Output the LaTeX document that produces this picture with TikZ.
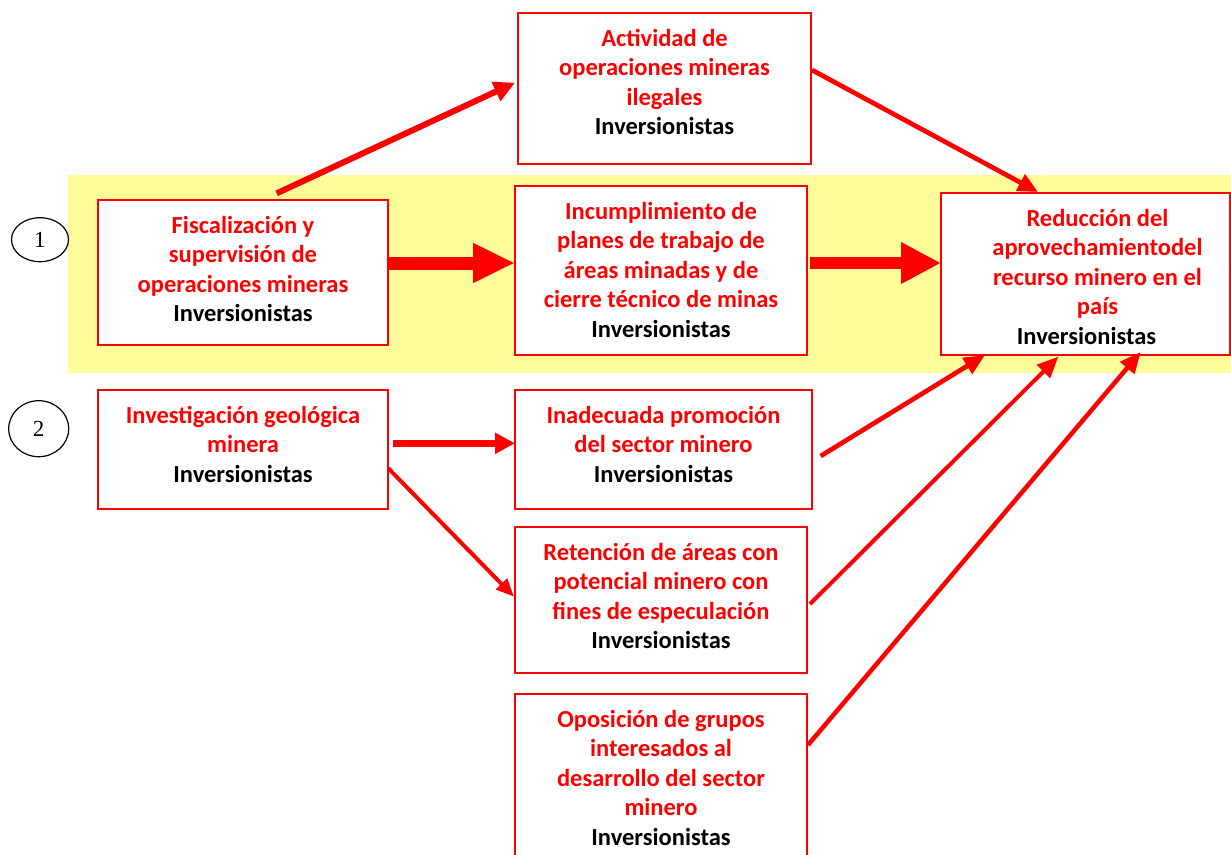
\documentclass[tikz,border=0pt]{standalone}
\usepackage{fontspec}
\setmainfont{Carlito}
\newfontfamily\numfont{Liberation Serif}
\usetikzlibrary{arrows.meta,calc,shapes.geometric}
\definecolor{bandyellow}{RGB}{255,253,153}
\definecolor{myred}{RGB}{255,0,0}
\tikzset{
  box/.style={draw=myred, line width=1.5pt, fill=white, inner sep=0pt, outer sep=0pt},
  txt/.style={anchor=north, inner sep=0pt, align=center, text=myred,
    font=\bfseries\fontsize{24.5pt}{29.5pt}\selectfont},
  numcirc/.style={ellipse, draw=black, line width=1.2pt, inner sep=0pt,
    font=\numfont\fontsize{23pt}{26pt}\selectfont},
  thin link/.style={draw=myred, line width=#1},
  fat link/.style={draw=myred},
}
\newcommand{\inv}{{\color{black}Inversionistas}}
\begin{document}
\begin{tikzpicture}[x=1pt,y=-1pt]
\useasboundingbox (0,0) rectangle (1231,854);
\clip (0,0) rectangle (1231,854);
\fill[bandyellow] (68,175) rectangle (1231,373);

% circles
\node[numcirc, minimum width=57pt, minimum height=44pt] (c1) at (40,239.7) {1};
\node[numcirc, minimum width=60pt, minimum height=56pt] (c2) at (38.7,428.7) {2};

% boxes
\node[box, minimum width=290pt, minimum height=145pt] (A) at (243,272.5) {};
\node[box, minimum width=293pt, minimum height=151pt] (B) at (664.5,88.5) {};
\node[box, minimum width=292pt, minimum height=169pt] (C) at (661,270.5) {};
\node[box, minimum width=289pt, minimum height=162pt] (D) at (1085.5,274) {};
\node[box, minimum width=290pt, minimum height=119pt] (E) at (243,449.5) {};
\node[box, minimum width=297pt, minimum height=119pt] (F) at (663.5,449.5) {};
\node[box, minimum width=292pt, minimum height=146pt] (G) at (661,600) {};
\node[box, minimum width=292pt, minimum height=186pt] (H) at (661,787) {};

% texts
\node[txt] (At) at ($(A.north)+(0,12.4)$) {\strut Fiscalización y\\supervisión de\\operaciones mineras\\\inv};
\node[txt] (Bt) at ($(B.north)+(0,12.4)$) {\strut Actividad de\\operaciones mineras\\ilegales\\\inv};
\node[txt] (Ct) at ($(C.north)+(0,12.4)$) {\strut Incumplimiento de\\planes de trabajo de\\áreas minadas y de\\cierre técnico de minas\\\inv};
\node[txt] (Dt) at ($(D.north)+(12,12.4)$) {\strut Reducción del\\aprovechamientodel\\recurso minero en el\\país\\\inv\hspace*{22pt}};
\node[txt] (Et) at ($(E.north)+(0,12.4)$) {\strut Investigación geológica\\minera\\\inv};
\node[txt] (Ft) at ($(F.north)+(0,12.4)$) {\strut Inadecuada promoción\\del sector minero\\\inv};
\node[txt] (Gt) at ($(G.north)+(0,12.4)$) {\strut Retención de áreas con\\potencial minero con\\fines de especulación\\\inv};
\node[txt] (Ht) at ($(H.north)+(0,12.4)$) {\strut Oposición de grupos\\interesados al\\desarrollo del sector\\minero\\\inv};

% fat arrows
\draw[fat link, line width=13pt, -{Triangle[length=42pt,width=37pt]}]
  ($(A.east)+(1,-9.5)$) -- ($(C.west)+(0,-7.5)$);
\draw[fat link, line width=12.5pt, -{Triangle[length=40pt,width=39pt]}]
  ($(C.east)+(3,-7.5)$) -- ($(D.west)+(0,-11)$);
\draw[fat link, line width=7pt, -{Triangle[length=20pt,width=20pt]}]
  ($(E.east)+(4.7,-6.2)$) -- ($(F.west)+(0,-6.2)$);

% thin arrows
\draw[thin link=6pt, -{Triangle[length=21pt,width=20pt]}]
  ($(A.north)+(33.7,-6.7)$) -- ($(B.west)+(-3,-5.8)$);
\draw[thin link=4.7pt, -{Triangle[length=20pt,width=18pt]}]
  ($(B.east)+(1,-18.5)$) -- ($(D.north)+(-47.5,-1)$);
\draw[thin link=4pt, -{Triangle[length=18pt,width=15pt]}]
  ($(E.east)+(0.3,18.8)$) -- ($(G.west)+(-1,-3.3)$);
\draw[thin link=4.7pt, -{Triangle[length=21pt,width=18pt]}]
  ($(F.east)+(8.7,6.5)$) -- ($(D.south west)+(44,0)$);
\draw[thin link=4pt, -{Triangle[length=21pt,width=18pt]}]
  ($(G.east)+(3,4)$) -- ($(D.south west)+(117.3,1.7)$);
\draw[thin link=4.5pt, -{Triangle[length=21pt,width=18pt]}]
  ($(H.north east)+(1,51)$) -- ($(D.south west)+(199.7,-3)$);
\end{tikzpicture}
\end{document}
